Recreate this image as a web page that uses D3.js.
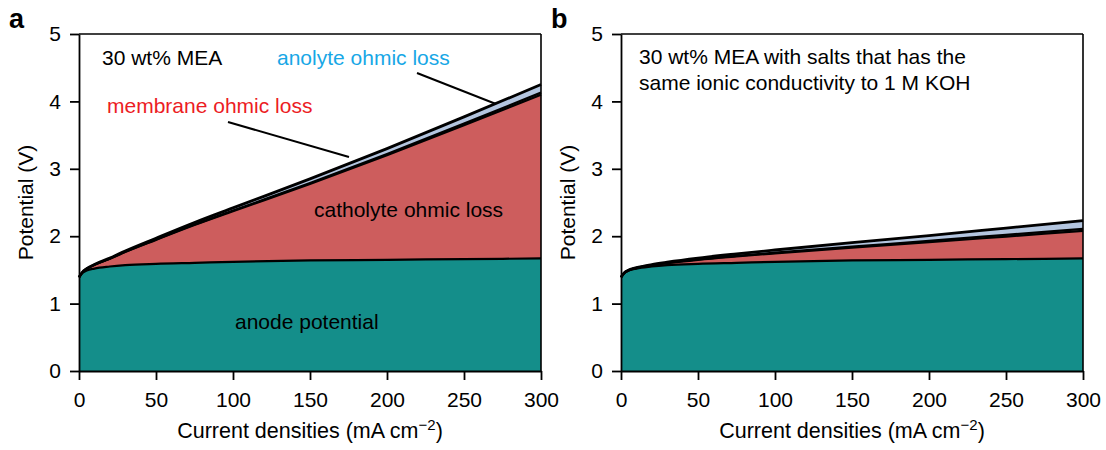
<!DOCTYPE html>
<html>
<head>
<meta charset="utf-8">
<script src="https://cdn.jsdelivr.net/npm/d3@7"></script>
<style>
  body { margin: 0; background: #fff; }
  svg text { font-family: "Liberation Sans", Arial, sans-serif; }
</style>
</head>
<body>
<div id="chart"></div>
<script>
// values
const currents = [0, 2, 5, 10, 20, 30, 50, 75, 100, 150, 200, 250, 300];
const anodePotential = [1.39, 1.45, 1.49, 1.52, 1.55, 1.57, 1.59, 1.605, 1.62, 1.64, 1.65, 1.66, 1.67];
const catholyteLossA = [0, 0.009, 0.027, 0.055, 0.115, 0.195, 0.355, 0.56, 0.75, 1.135, 1.55, 1.985, 2.43];
const catholyteLossB = [0, 0.002, 0.005, 0.009, 0.02, 0.03, 0.06, 0.095, 0.125, 0.19, 0.26, 0.335, 0.41];
const membraneLoss = [0, 0.0002, 0.0005, 0.001, 0.002, 0.003, 0.005, 0.0075, 0.01, 0.015, 0.02, 0.025, 0.03];
const anolyteLoss = [0, 0.001, 0.002, 0.004, 0.008, 0.012, 0.02, 0.03, 0.04, 0.06, 0.08, 0.10, 0.12];

const xTicks = [0, 50, 100, 150, 200, 250, 300];
const yTicks = [0, 1, 2, 3, 4, 5];

const layerKeys = ["anode", "catholyte", "membrane", "anolyte"];
const layerColors = { anode: "#148e8a", catholyte: "#cd5d5d", membrane: "#8a8a8a", anolyte: "#b3c5df" };

const W = 1106, H = 450;
const FONT = 21;

const svg = d3.select("#chart").append("svg")
    .attr("width", W)
    .attr("height", H);

function drawPanel(opts) {
    const x = d3.scaleLinear().domain([0, 300]).range([opts.left, opts.left + 462]);
    const y = d3.scaleLinear().domain([0, 5]).range([371, 34]);

    const rows = currents.map((c, i) => ({
        current: c,
        anode: anodePotential[i],
        catholyte: opts.catholyte[i],
        membrane: membraneLoss[i],
        anolyte: anolyteLoss[i]
    }));
    const series = d3.stack().keys(layerKeys)(rows);

    const g = svg.append("g");

    const area = d3.area()
        .curve(d3.curveMonotoneX)
        .x(d => x(d.data.current))
        .y0(d => y(d[0]))
        .y1(d => y(d[1]));

    g.selectAll(".layer")
        .data(series)
        .enter().append("path")
        .attr("class", "layer")
        .attr("d", area)
        .attr("fill", d => layerColors[d.key]);

    const line = d3.line()
        .curve(d3.curveMonotoneX)
        .x(d => x(d.data.current))
        .y(d => y(d[1]));

    g.selectAll(".edge")
        .data(series)
        .enter().append("path")
        .attr("class", "edge")
        .attr("d", line)
        .attr("fill", "none")
        .attr("stroke", "#000")
        .attr("stroke-width", (d, i) => i === series.length - 1 ? 2.8 : 2.2);

    // axes
    const xAxis = g.append("g")
        .attr("transform", "translate(0,371)")
        .call(d3.axisBottom(x).tickValues(xTicks).tickFormat(d3.format("d"))
            .tickSize(9).tickSizeOuter(0).tickPadding(12));
    const yAxis = g.append("g")
        .attr("transform", `translate(${opts.left},0)`)
        .call(d3.axisLeft(y).tickValues(yTicks).tickFormat(d3.format("d"))
            .tickSize(9).tickSizeOuter(0).tickPadding(9));

    [xAxis, yAxis].forEach(a => {
        a.selectAll("text").style("font-size", FONT + "px").attr("fill", "#000");
        a.selectAll("line, path").attr("stroke", "#000").attr("stroke-width", 1.8);
    });

    // top and right spines
    g.append("line")
        .attr("x1", x(0)).attr("x2", x(300))
        .attr("y1", y(5)).attr("y2", y(5))
        .attr("stroke", "#000").attr("stroke-width", 1.6);
    g.append("line")
        .attr("x1", x(300)).attr("x2", x(300))
        .attr("y1", y(5)).attr("y2", y(0))
        .attr("stroke", "#000").attr("stroke-width", 1.6);

    // axis labels
    const xl = g.append("text")
        .attr("x", (x(0) + x(300)) / 2)
        .attr("y", 438)
        .attr("text-anchor", "middle")
        .style("font-size", "21.5px");
    xl.append("tspan").text("Current densities (mA cm");
    xl.append("tspan").attr("dy", -8).style("font-size", "15px").text("\u22122");
    xl.append("tspan").attr("dy", 8).text(")");

    g.append("text")
        .attr("transform", `translate(${opts.left - 46},${(y(0) + y(5)) / 2}) rotate(-90)`)
        .attr("text-anchor", "middle")
        .style("font-size", FONT + "px")
        .text("Potential (V)");

    g.append("text")
        .attr("x", opts.left - 70)
        .attr("y", 28)
        .style("font-size", "27px")
        .style("font-weight", "bold")
        .text(opts.letter);

    return { g, x, y };
}

const a = drawPanel({ left: 79, catholyte: catholyteLossA, letter: "a" });
const b = drawPanel({ left: 621, catholyte: catholyteLossB, letter: "b" });

// panel a annotations
a.g.append("text").attr("x", 102).attr("y", 65).style("font-size", FONT + "px").text("30 wt% MEA");
a.g.append("text").attr("x", 277).attr("y", 65).style("font-size", FONT + "px").attr("fill", "#17a7e6").text("anolyte ohmic loss");
a.g.append("text").attr("x", 107).attr("y", 113).style("font-size", FONT + "px").attr("fill", "#ec1c24").text("membrane ohmic loss");
a.g.append("text").attr("x", 314).attr("y", 217).style("font-size", FONT + "px").text("catholyte ohmic loss");
a.g.append("text").attr("x", 235).attr("y", 329).style("font-size", FONT + "px").text("anode potential");

a.g.append("line").attr("x1", 417).attr("y1", 73).attr("x2", 496).attr("y2", 104)
    .attr("stroke", "#000").attr("stroke-width", 2);
a.g.append("line").attr("x1", 228).attr("y1", 122).attr("x2", 349).attr("y2", 157)
    .attr("stroke", "#000").attr("stroke-width", 2);

// panel b annotation
b.g.append("text").attr("x", 639).attr("y", 64).style("font-size", FONT + "px").text("30 wt% MEA with salts that has the");
b.g.append("text").attr("x", 639).attr("y", 90).style("font-size", FONT + "px").text("same ionic conductivity to 1 M KOH");
</script>
</body>
</html>
